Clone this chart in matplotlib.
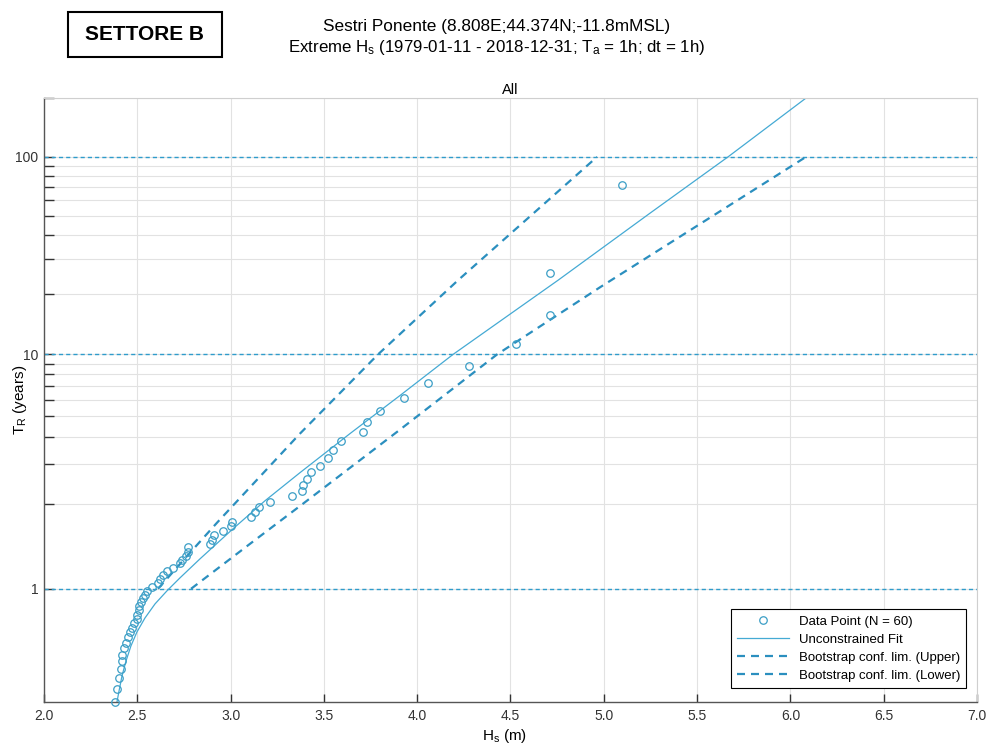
import numpy as np
import matplotlib
matplotlib.use("Agg")
import matplotlib.pyplot as plt
from matplotlib import font_manager
from matplotlib.patches import Rectangle
from matplotlib.ticker import FixedLocator, FixedFormatter, NullFormatter

# peaks per year (60 events in 40 years), used by the return period axis
RATE = 60 / 40.0

# data points, largest first: Hs (m) and return period (years)
hs_points = [5.10, 4.71, 4.71, 4.53, 4.28, 4.06, 3.93, 3.80, 3.73, 3.71,
             3.59, 3.55, 3.52, 3.48, 3.43, 3.41, 3.39, 3.38, 3.33, 3.21,
             3.15, 3.13, 3.11, 3.01, 3.00, 2.96, 2.91, 2.90, 2.89, 2.77,
             2.77, 2.76, 2.74, 2.73, 2.69, 2.66, 2.64, 2.62, 2.61, 2.58,
             2.55, 2.54, 2.53, 2.52, 2.51, 2.51, 2.50, 2.50, 2.48, 2.47,
             2.46, 2.45, 2.44, 2.43, 2.42, 2.42, 2.41, 2.40, 2.39, 2.38]
tr_points = [72.0, 25.7, 15.7, 11.3, 8.8, 7.2, 6.1, 5.3, 4.7, 4.2,
             3.8, 3.47, 3.19, 2.95, 2.75, 2.58, 2.42, 2.28, 2.16, 2.05,
             1.95, 1.86, 1.78, 1.70, 1.63, 1.57, 1.51, 1.45, 1.40, 1.36,
             1.31, 1.27, 1.23, 1.20, 1.16, 1.13, 1.10, 1.07, 1.04, 1.01,
             0.988, 0.964, 0.942, 0.920, 0.900, 0.880, 0.861, 0.843, 0.826, 0.809,
             0.793, 0.777, 0.762, 0.748, 0.734, 0.721, 0.709, 0.696, 0.686, 0.677]

# fitted curve and bootstrap limits
fit_hs = [2.391, 2.402, 2.418, 2.439, 2.466, 2.498, 2.541, 2.595, 2.659, 2.729,
          2.836, 3.013, 3.184, 3.372, 3.640, 3.908, 4.192, 4.755, 5.248, 5.666, 6.084]
fit_tr = [0.677, 0.684, 0.699, 0.721, 0.754, 0.794, 0.846, 0.912, 0.987, 1.077,
          1.240, 1.596, 2.07, 2.741, 4.138, 6.29, 10.0, 23.55, 51.6, 100.0, 200.0]
upper_hs = [2.611, 2.782, 2.927, 3.372, 3.790, 4.219, 4.964]
upper_tr = [1.0, 1.301, 1.685, 4.138, 10.0, 23.55, 100.0]
lower_hs = [2.788, 3.104, 3.388, 3.908, 4.428, 4.980, 6.084]
lower_tr = [1.0, 1.401, 2.013, 4.32, 10.0, 21.7, 100.0]

x_ticks = [2.0, 2.5, 3.0, 3.5, 4.0, 4.5, 5.0, 5.5, 6.0, 6.5, 7.0]
y_major = [1, 10, 100]
y_major_labels = ["1", "10", "100"]
y_minor = [2, 3, 4, 5, 6, 7, 8, 9, 20, 30, 40, 50, 60, 70, 80, 90, 200]


def to_gumbel(t):
    t = np.asarray(t, dtype=float)
    p = 1.0 / (RATE * np.clip(t, 1e-9, None))
    p = np.clip(p, 1e-15, 1 - 1e-15)
    return -np.log(-np.log1p(-p))


def from_gumbel(y):
    y = np.asarray(y, dtype=float)
    p = -np.expm1(-np.exp(-y))
    return 1.0 / (RATE * np.clip(p, 1e-300, None))


names = {f.name for f in font_manager.fontManager.ttflist}
narrow = "Liberation Sans Narrow" if "Liberation Sans Narrow" in names else "Liberation Sans"
plt.rcParams["font.family"] = [narrow, "DejaVu Sans"]
plt.rcParams["mathtext.fontset"] = "custom"
plt.rcParams["mathtext.rm"] = narrow
plt.rcParams["mathtext.it"] = narrow
plt.rcParams["mathtext.default"] = "regular"

point_col = "#3b9ec6"
fit_col = "#45aad4"
dash_col = "#2b8fbf"

fig = plt.figure(figsize=(9.87, 7.47), dpi=100)
ax = fig.add_axes([44 / 987, 1 - 702 / 747, 933 / 987, 604 / 747])
ax.set_yscale("function", functions=(to_gumbel, from_gumbel))
ax.set_xlim(2, 7)
ax.set_ylim(0.677, 200)

ax.set_xticks(x_ticks)
ax.set_xticklabels([f"{v:.1f}" for v in x_ticks])
ax.yaxis.set_major_locator(FixedLocator(y_major))
ax.yaxis.set_major_formatter(FixedFormatter(y_major_labels))
ax.yaxis.set_minor_locator(FixedLocator(y_minor))
ax.yaxis.set_minor_formatter(NullFormatter())

ax.grid(axis="x", color="#e2e2e2", lw=0.8)
ax.grid(axis="y", which="both", color="#e2e2e2", lw=0.8)
ax.set_axisbelow(True)

for t in y_major:
    ax.axhline(t, color="#2f9ccb", lw=1.0, ls=(0, (3.0, 2.2)), zorder=1.5)

ax.plot(hs_points, tr_points, "o", ls="none", mfc="none", mec=point_col, ms=5.4,
        mew=0.9, label="Data Point (N = 60)", clip_on=False, zorder=3)
ax.plot(fit_hs, fit_tr, color=fit_col, lw=0.9, label="Unconstrained Fit", zorder=2)
ax.plot(upper_hs, upper_tr, color=dash_col, lw=1.6, ls=(0, (3.6, 2.7)),
        label="Bootstrap conf. lim. (Upper)", zorder=2)
ax.plot(lower_hs, lower_tr, color=dash_col, lw=1.6, ls=(0, (3.6, 2.7)),
        label="Bootstrap conf. lim. (Lower)", zorder=2)

leg = ax.legend(loc="lower right", bbox_to_anchor=((966 - 44) / 933, (702 - 688) / 604),
                borderaxespad=0, fancybox=False, framealpha=1, edgecolor="black",
                prop={"family": "Liberation Sans", "size": 9.5}, handlelength=4.0,
                handletextpad=0.7, labelspacing=0.45, borderpad=0.45, numpoints=1)
leg.get_frame().set_linewidth(0.8)

for side in ("left", "bottom"):
    ax.spines[side].set_color("#555555")
    ax.spines[side].set_linewidth(1.0)
for side in ("top", "right"):
    ax.spines[side].set_color("#cfcfcf")
    ax.spines[side].set_linewidth(0.8)

ax.tick_params(which="both", direction="in", colors="#333333", top=False, right=False)
ax.tick_params(axis="x", length=6, width=1, labelsize=10, pad=5)
ax.tick_params(axis="y", which="both", length=7, width=1, labelsize=10, pad=4)

ax.set_xlabel("H$_s$ (m)", fontsize=11, va="top")
ax.xaxis.set_label_coords(0.494, -0.041)
ax.set_ylabel("T$_R$ (years)", fontsize=11)
ax.yaxis.set_label_coords(-0.016, 0.5)
ax.set_title("All", fontsize=10.5, pad=3)

fig.text(0.5035, 0.965, "Sestri Ponente (8.808E;44.374N;-11.8mMSL)",
         ha="center", va="center", fontsize=12.4)
fig.text(0.5035, 0.937, "Extreme H$_s$ (1979-01-11 - 2018-12-31; T$_a$ = 1h; dt = 1h)",
         ha="center", va="center", fontsize=12.2)

fig.patches.append(Rectangle((68 / 987, 1 - 57 / 747), 154 / 987, 45 / 747,
                             transform=fig.transFigure, facecolor="white",
                             edgecolor="black", lw=1.5))
fig.text(145 / 987, 1 - 35 / 747, "SETTORE B", ha="center", va="center",
         fontsize=15, fontweight="bold", family="Liberation Sans")

fig.savefig("out.png", dpi=100)
